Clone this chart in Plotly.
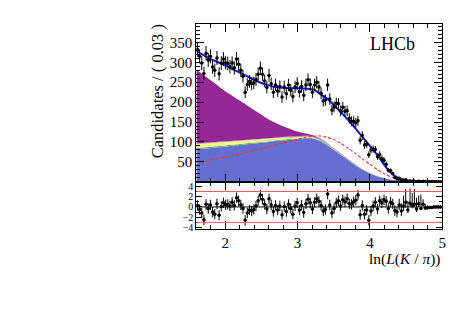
import math
import plotly.graph_objects as go

# ---------------- data ----------------
bin_width = 0.03
bin_centres = [round(1.615 + bin_width * i, 3) for i in range(113)]

data_counts = [
    332, 315, 298, 272, 323, 306, 315, 288, 280, 311,
    271, 298, 308, 299, 297, 289, 298, 286, 308, 295,
    280, 265, 225, 244, 252, 246, 248, 257, 270, 285,
    270, 253, 237, 267, 246, 225, 243, 228, 239, 213,
    238, 221, 243, 230, 214, 238, 247, 226, 239, 217,
    243, 256, 244, 225, 243, 250, 238, 222, 203, 205,
    243, 208, 180, 188, 197, 196, 178, 187, 177, 178,
    159, 152, 152, 148, 153, 104, 116, 92, 94, 68,
    80, 82, 81, 63, 68, 58, 54, 44, 29, 28,
    21, 11, 7, 9, 4, 4, 5, 1, 2, 1,
    1, 0, 1, 0, 1, 0, 0, 0, 0, 0,
    0, 0, 0,
]

pulls = [
    0.3, -0.5, -1.2, -2.5, 0.5, -0.3, 0.4, -1.0, -1.4, 0.6,
    -1.6, 0.1, 0.8, 0.4, 0.5, 0.2, 0.9, 0.3, 1.8, 1.2,
    0.4, -0.3, -2.6, -1.2, -0.6, -0.8, -0.5, 0.2, 1.2, 2.3,
    1.5, 0.5, -0.4, 1.6, 0.4, -0.9, 0.3, -0.6, 0.2, -1.5,
    0.1, -0.9, 0.5, -0.3, -1.4, 0.2, 0.8, -0.6, 0.3, -1.1,
    0.6, 1.5, 0.8, -0.4, 0.9, 1.6, 1.1, 0.3, -0.8, -0.5,
    2.5, 0.4, -1.2, -0.3, 0.8, 1.2, 0.2, 1.4, 1.0, 1.6,
    0.6, 0.5, 1.0, 1.3, 2.3, -1.5, 0.3, -1.4, -0.6, -2.6,
    -0.8, 0.2, 0.9, -0.4, 1.2, 0.8, 1.4, 1.1, -0.3, 0.9,
    0.6, -0.7, -1.0, 0.4, -0.8, 0.2, 0.9, -0.6, 0.7, 0.3,
    0.5, -0.4, 0.6, -0.3, 0.5, -0.2, -0.2, -0.1, -0.1, 0.0,
    0.0, 0.0, 0.0,
]
pull_err_up = [1.0] * 93 + [1.2, 1.5, 2.0, 2.6, 1.8, 2.9, 2.4, 3.0, 2.2, 1.6,
                            2.7, 1.0, 0.8, 0.5, 0.3, 0.3, 0.3, 0.3, 0.3, 0.3]
pull_err_dn = [1.0] * 97 + [0.6] * 6 + [0.3] * 10

# total fit curve
fit_x = [1.6, 1.7, 1.8, 1.9, 2.0, 2.1, 2.2, 2.3, 2.4, 2.5, 2.6, 2.7, 2.8, 2.9,
         3.0, 3.1, 3.2, 3.25, 3.3, 3.4, 3.5, 3.6, 3.7, 3.8, 3.9, 4.0, 4.1,
         4.2, 4.3, 4.4, 4.5, 4.6, 4.8, 5.0]
fit_y = [328, 318, 308, 300, 292, 283, 274, 265, 256, 248, 242, 238, 236, 235,
         235, 234, 232, 229, 222, 210, 193, 174, 155, 134, 112, 90, 68,
         42, 21, 9, 3, 1, 0.3, 0]

# components
comp_x = [1.6, 1.8, 2.0, 2.2, 2.4, 2.6, 2.8, 3.0, 3.1, 3.2, 3.3, 3.4, 3.5,
          3.6, 3.7, 3.8, 3.9, 4.0, 4.1, 4.2, 4.3, 4.4, 4.5, 4.7, 5.0]
comp_blue = [82, 85, 88, 92, 96, 100, 104, 107, 109, 109, 103, 93, 80,
             67, 54, 41, 30, 21, 14, 9, 5, 3, 1.5, 0.5, 0]
comp_green = [3, 3, 3, 2.5, 2.5, 2, 2, 1.5, 1.5, 1, 1, 0.8, 0.6,
              0.5, 0.4, 0.3, 0.2, 0.1, 0.1, 0, 0, 0, 0, 0, 0]
comp_yellow = [10, 9.5, 9, 8, 7, 6, 5, 3.5, 2.5, 1.5, 1, 0.5, 0.4,
               0.3, 0.2, 0.1, 0.1, 0, 0, 0, 0, 0, 0, 0, 0]
comp_gray = [1.5, 1.5, 1.5, 1.5, 1.5, 1.5, 1.5, 2, 2.5, 3, 3.5, 3.5, 3,
             2.5, 2, 1.5, 1, 0.7, 0.4, 0.2, 0.1, 0, 0, 0, 0]
comp_purple = [185, 156, 126, 100, 73, 47, 27, 12, 6, 3, 1.5, 1, 0.6,
               0.4, 0.3, 0.2, 0.1, 0, 0, 0, 0, 0, 0, 0, 0]
comp_signal = [49, 55, 62, 70, 79, 88, 98, 106, 111, 114, 115, 112, 106,
               96, 84, 71, 57, 44, 31, 20, 12, 6, 3, 0.5, 0]

x_ticks = [2, 3, 4, 5]
y_ticks = [50, 100, 150, 200, 250, 300, 350]
pull_ticks = [-4, -2, 0, 2, 4]
pull_band = [-3, 3]

# ---------------- figure ----------------
W, H = 474, 334
FONT = "Liberation Serif"

def px_x(p):
    return p / W

def px_y(p):
    return 1 - p / H

err_up = [math.sqrt(n) if n > 0 else 1.15 for n in data_counts]
err_dn = [math.sqrt(n) if n > 0 else 0 for n in data_counts]

fig = go.Figure()

stack = [
    (comp_blue, "rgb(102,110,210)"),
    (comp_green, "rgb(90,185,90)"),
    (comp_yellow, "rgb(245,245,140)"),
    (comp_gray, "rgb(165,165,165)"),
    (comp_purple, "rgb(150,40,150)"),
]
for vals, col in stack:
    fig.add_trace(go.Scatter(
        x=comp_x, y=vals, stackgroup="bkg", mode="lines",
        line=dict(width=0, shape="spline", smoothing=0.6),
        fillcolor=col, hoverinfo="skip", showlegend=False,
        xaxis="x", yaxis="y"))

fig.add_trace(go.Scatter(
    x=comp_x, y=comp_signal, mode="lines",
    line=dict(color="rgb(255,50,50)", width=1.2, dash="3px,2px", shape="spline",
              smoothing=0.6),
    showlegend=False, xaxis="x", yaxis="y"))

fig.add_trace(go.Scatter(
    x=fit_x, y=fit_y, mode="lines",
    line=dict(color="rgb(20,20,210)", width=2, shape="spline", smoothing=0.6),
    showlegend=False, xaxis="x", yaxis="y"))

fig.add_trace(go.Scatter(
    x=bin_centres, y=data_counts, mode="markers",
    marker=dict(color="black", size=3.5),
    error_y=dict(type="data", symmetric=False, array=err_up, arrayminus=err_dn,
                 color="black", thickness=1, width=0),
    error_x=dict(type="constant", value=bin_width / 2, color="black",
                 thickness=1, width=0),
    showlegend=False, xaxis="x", yaxis="y"))

fig.add_trace(go.Scatter(
    x=bin_centres, y=pulls, mode="markers",
    marker=dict(color="black", size=3.5),
    error_y=dict(type="data", symmetric=False, array=pull_err_up,
                 arrayminus=pull_err_dn, color="black", thickness=1, width=0),
    error_x=dict(type="constant", value=bin_width / 2, color="black",
                 thickness=1, width=0),
    showlegend=False, xaxis="x2", yaxis="y2"))

shapes = []
for v in pull_band:
    shapes.append(dict(type="line", xref="x2", yref="y2", x0=1.6, x1=5.0,
                       y0=v, y1=v, line=dict(color="rgb(255,90,90)", width=1)))
shapes.append(dict(type="line", xref="x2", yref="y2", x0=1.6, x1=5.0,
                   y0=0, y1=0, line=dict(color="black", width=1)))

xdom = [px_x(198), px_x(446)]


def axis_common(size):
    return dict(showline=True, linecolor="black", linewidth=1, mirror="ticks",
                ticks="inside", tickcolor="black", showgrid=False, zeroline=False,
                tickfont=dict(family=FONT, size=size, color="black"))


fig.update_layout(
    width=W, height=H, margin=dict(l=0, r=0, t=0, b=0),
    paper_bgcolor="white", plot_bgcolor="white",
    font=dict(family=FONT, color="black"),
    showlegend=False,
    shapes=shapes,
    xaxis=dict(domain=xdom, range=[1.6, 5.0], anchor="y", showticklabels=False,
               tickvals=x_ticks, ticklen=8,
               minor=dict(dtick=0.2, tick0=1.6, ticklen=4, ticks="inside", tickcolor="black"),
               **axis_common(15)),
    yaxis=dict(domain=[px_y(183.5), px_y(23)], range=[0, 397], anchor="x",
               tickvals=y_ticks, ticklen=8,
               minor=dict(dtick=10, tick0=0, ticklen=4, ticks="inside", tickcolor="black"),
               **axis_common(15)),
    xaxis2=dict(domain=xdom, range=[1.6, 5.0], anchor="y2", tickvals=x_ticks,
                ticklen=8,
                minor=dict(dtick=0.2, tick0=1.6, ticklen=4, ticks="inside", tickcolor="black"),
                **axis_common(15)),
    yaxis2=dict(domain=[px_y(231), px_y(183.5)], range=[-4.2, 4.9], anchor="x2",
                tickvals=pull_ticks, ticklen=6,
                minor=dict(dtick=1, tick0=0, ticklen=3, ticks="inside", tickcolor="black"),
                **axis_common(10)),
    annotations=[
        dict(text="LHCb", x=px_x(396), y=px_y(44), xref="paper", yref="paper",
             showarrow=False, xanchor="center", yanchor="middle",
             font=dict(family=FONT, size=18, color="black")),
        dict(text="Candidates / ( 0.03 )", x=px_x(159), y=px_y(22), xref="paper",
             yref="paper", showarrow=False, textangle=-90, xanchor="center",
             yanchor="top", font=dict(family=FONT, size=16.5, color="black")),
        dict(text="ln(<i>L</i>(<i>K</i> / <i>π</i>))", x=px_x(447), y=px_y(262),
             xref="paper", yref="paper", showarrow=False, xanchor="right",
             yanchor="middle", font=dict(family=FONT, size=15.5, color="black")),
    ],
)

fig.write_html("out.html")
